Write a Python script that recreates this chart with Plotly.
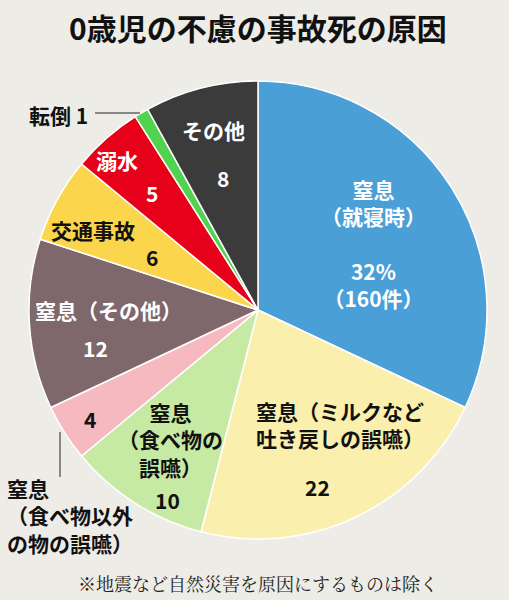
import plotly.graph_objects as go

W, H = 509, 600
BG = "#eeece6"
FONT = "Noto Sans CJK JP"

# slices, clockwise from 12 o'clock
causes = ["窒息（就寝時）", "窒息（ミルクなど吐き戻しの誤嚥）", "窒息（食べ物の誤嚥）",
          "窒息（食べ物以外の物の誤嚥）", "窒息（その他）", "交通事故", "溺水", "転倒", "その他"]
shares = [32, 22, 10, 4, 12, 6, 5, 1, 8]
colors = ["#4a9fd6", "#fbefad", "#c6e9a4", "#f6b9bf", "#7e686c",
          "#fbd54c", "#e60019", "#52d34f", "#3b3b3b"]
cases_top = 160

# pie centre / radius in pixels
CX, CY, R = 258, 310, 229


def px(x):
    return x / W


def py(y):
    return 1 - y / H


fig = go.Figure(go.Pie(
    labels=causes, values=shares, sort=False, direction="clockwise", rotation=0,
    marker=dict(colors=colors, line=dict(color="white", width=1.5)),
    textinfo="none", hoverinfo="none", showlegend=False,
    domain=dict(x=[px(CX - R), px(CX + R)], y=[py(CY + R), py(CY - R)]),
))

annotations = []


def label(x, y, text, color="#111", size=21, anchor="center"):
    annotations.append(dict(x=px(x), y=py(y), xref="paper", yref="paper", text=text,
                            showarrow=False, xanchor=anchor, yanchor="middle", align=anchor,
                            font=dict(family=FONT, size=size, color=color, weight="bold")))


# title
label(258, 27, "0歳児の不慮の事故死の原因", size=30)

label(373, 243, f"窒息<br>（就寝時）<br> <br>{shares[0]}%<br>（{cases_top}件）", "white")
label(340, 424, "窒息（ミルクなど<br>吐き戻しの誤嚥）")
label(317, 487, str(shares[1]))
label(170, 440, "窒息<br>（食べ物の<br>誤嚥）")
label(167, 500, str(shares[2]))
label(90, 419, str(shares[3]))
label(108, 310, "窒息（その他）", "white")
label(95, 348, str(shares[4]), "white")
label(93, 230, "交通事故")
label(152, 257, str(shares[5]))
label(117, 160, "溺水", "white")
label(152, 193, str(shares[6]), "white")
label(213, 130, "その他", "white")
label(223, 178, str(shares[8]), "white")

# outside labels
label(27, 115, f"転倒 {shares[7]}", anchor="left")
label(5, 515, "窒息<br>（食べ物以外<br>の物の誤嚥）", anchor="left")

# footnote
annotations.append(dict(x=px(258), y=py(583), xref="paper", yref="paper",
                        text="※地震など自然災害を原因にするものは除く", showarrow=False,
                        xanchor="center", yanchor="middle",
                        font=dict(family="Noto Serif CJK JP, " + FONT, size=18, color="#222")))

shapes = [
    dict(type="line", xref="paper", yref="paper", x0=px(95), x1=px(140), y0=py(113), y1=py(113),
         line=dict(color="#222", width=1)),
    dict(type="line", xref="paper", yref="paper", x0=px(60), x1=px(60), y0=py(432), y1=py(477),
         line=dict(color="#222", width=1)),
]

fig.update_layout(width=W, height=H, margin=dict(l=0, r=0, t=0, b=0),
                  paper_bgcolor=BG, plot_bgcolor=BG,
                  annotations=annotations, shapes=shapes)

fig.write_html("out.html", config={"displayModeBar": False},
               post_script="document.body.style.margin='0';document.body.style.background='%s';" % BG)
